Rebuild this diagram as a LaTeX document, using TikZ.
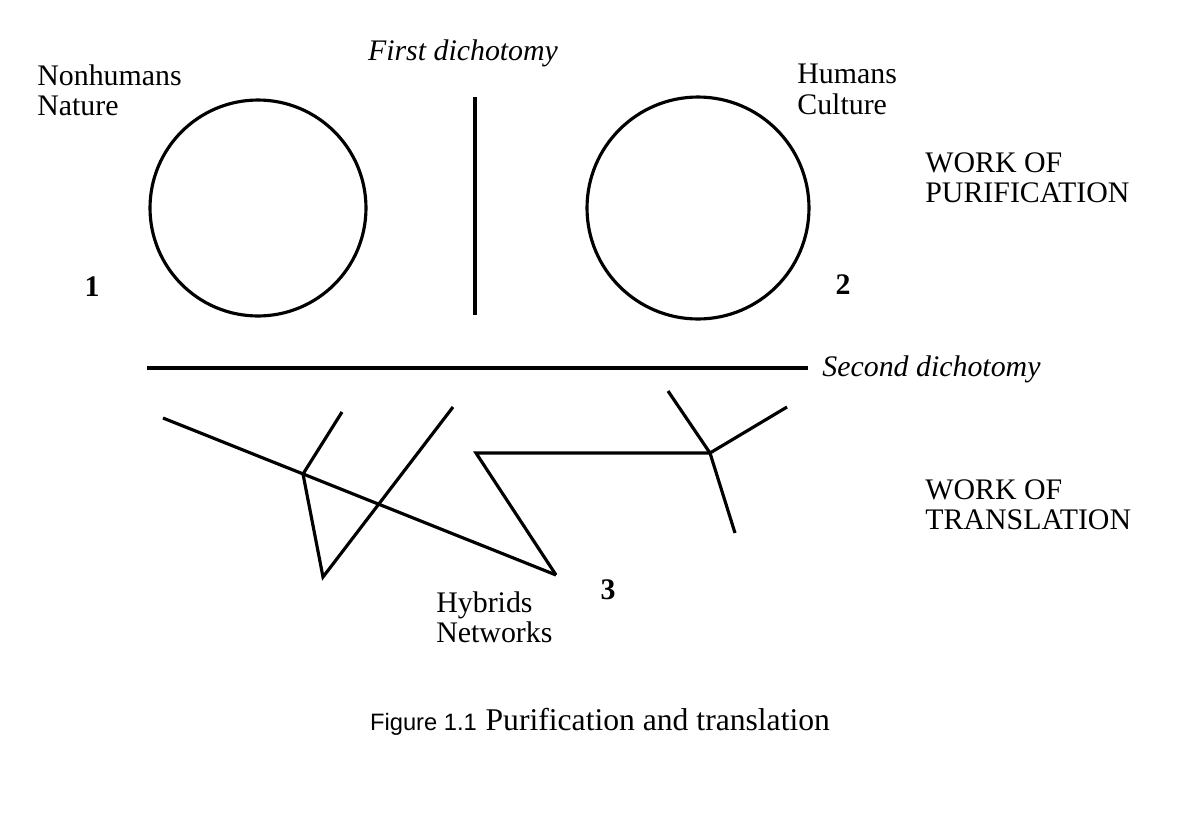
\documentclass[tikz,border=0pt]{standalone}
\usepackage{fontspec}
\setmainfont{Liberation Serif}
\setsansfont{Liberation Sans}
\begin{document}
\begin{tikzpicture}[x=0.02cm,y=-0.02cm,
  ln/.style={line width=1.8pt},
  lbl/.style={font=\fontsize{17}{17.5}\selectfont, align=left, inner sep=0pt},
  num/.style={font=\fontsize{17}{18}\selectfont\bfseries, inner sep=0pt}]
\useasboundingbox (0,0) rectangle (1200,819);
\node[draw,ln,circle,minimum size=4.32cm,inner sep=0pt] (c1) at (258,208) {};
\node[draw,ln,circle,minimum size=4.44cm,inner sep=0pt] (c2) at (698,208) {};
\coordinate (v1) at (475,97); \coordinate (v2) at (475,315);
\draw[ln] (v1) -- (v2);
\coordinate (h1) at (147,368); \coordinate (h2) at (808,368);
\draw[ln] (h1) -- (h2);
\node[lbl,font=\fontsize{17}{18}\selectfont\itshape] (fd) at (463,53) {First dichotomy};
\node[lbl,anchor=west,font=\fontsize{17}{18}\selectfont\itshape] (sd) at (822,369) {Second dichotomy};
\node[lbl,anchor=north west] (nh) at (37,64) {Nonhumans\\Nature};
\node[lbl,anchor=north west] (hc) at (797,64) {Humans\\Culture};
\node[lbl,anchor=north west] (wp) at (925,152) {WORK OF\\PURIFICATION};
\node[lbl,anchor=north west] (wt) at (925,479) {WORK OF\\TRANSLATION};
\node[lbl,anchor=north west] (hn) at (436,591) {Hybrids\\Networks};
\node[num] (n1) at (92,287) {1};
\node[num] (n2) at (843,285) {2};
\node[num] (n3) at (608,590) {3};
\coordinate (a) at (163,418); \coordinate (b) at (556,575);
\draw[ln] (a) -- (b);
\draw[ln,line join=miter] (342,412) -- (303,474) -- (323,577) -- (453,407);
\coordinate (j) at (710,453);
\draw[ln,line join=miter] (b) -- (476,453) -- (j);
\draw[ln] (668,391) -- (j) -- (787,407);
\draw[ln] (j) -- (735,533);
\node[inner sep=0pt] (cap) at (600,722) {{\sffamily\fontsize{13.5}{15}\selectfont Figure 1.1}\enspace{\fontsize{18}{20}\selectfont Purification and translation}};
\end{tikzpicture}
\end{document}
